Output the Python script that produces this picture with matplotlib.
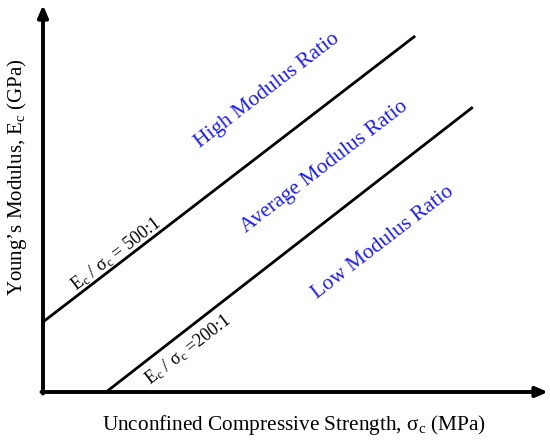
import matplotlib
matplotlib.use('Agg')
import matplotlib.pyplot as plt
import numpy as np

plt.rcParams['font.family'] = ['Liberation Serif', 'DejaVu Serif']
plt.rcParams['mathtext.fontset'] = 'custom'
plt.rcParams['mathtext.rm'] = 'Liberation Serif'
plt.rcParams['mathtext.it'] = 'Liberation Serif:italic'

# modulus ratio lines (schematic, axes run 0..100)
ratio_labels = ['E$_\\mathregular{c}$ / σ$_\\mathregular{c}$ = 500:1',
                'E$_\\mathregular{c}$ / σ$_\\mathregular{c}$ =200:1']
line_x = [[0, 73.7], [12.5, 85.1]]
line_y = [[18.1, 92.0], [0, 73.6]]
label_x = [14.4, 28.7]
label_y = [35.6, 10.9]

# region labels
region_names = ['High Modulus Ratio', 'Average Modulus Ratio', 'Low Modulus Ratio']
region_x = [44.4, 55.8, 67.3]
region_y = [78.0, 58.1, 38.5]

fig = plt.figure(figsize=(5.5, 4.42), dpi=100)
ax = fig.add_axes([43/550, 50/442, 505/550, 387/442])
ax.set_xlim(0, 100)
ax.set_ylim(0, 100)
for s in ax.spines.values():
    s.set_visible(False)
ax.set_xticks([])
ax.set_yticks([])

# axes with arrow heads
arrow = dict(arrowstyle='-|>,head_length=0.7,head_width=0.3', color='black', lw=2.8,
             shrinkA=0, shrinkB=0)
ax.annotate('', xy=(100, 0), xytext=(-0.3, 0), arrowprops=arrow, annotation_clip=False)
ax.annotate('', xy=(0, 100), xytext=(0, -0.4), arrowprops=arrow, annotation_clip=False)

# on-screen angle of the ratio lines
dx = (line_x[0][1] - line_x[0][0]) * 505 / 100
dy = (line_y[0][1] - line_y[0][0]) * 387 / 100
ang = np.degrees(np.arctan2(dy, dx))

for xs, ys in zip(line_x, line_y):
    ax.plot(xs, ys, color='black', lw=2, solid_capstyle='butt', clip_on=False)

for t, x, y in zip(ratio_labels, label_x, label_y):
    ax.text(x, y, t, rotation=ang, rotation_mode='anchor', ha='center', va='center',
            fontsize=13, color='black')

for t, x, y in zip(region_names, region_x, region_y):
    ax.text(x, y, t, rotation=ang, rotation_mode='anchor', ha='center', va='center',
            fontsize=15.5, color='#1a1aff')

fig.text(294/550, 12/442, 'Unconfined Compressive Strength, σ$_\\mathregular{c}$ (MPa)',
         ha='center', va='baseline', fontsize=15.3)
fig.text(17/550, 1 - 177/442, 'Young’s Modulus, E$_\\mathregular{c}$ (GPa)',
         ha='center', va='center', rotation=90, fontsize=15)

fig.savefig('out.png', dpi=100)
